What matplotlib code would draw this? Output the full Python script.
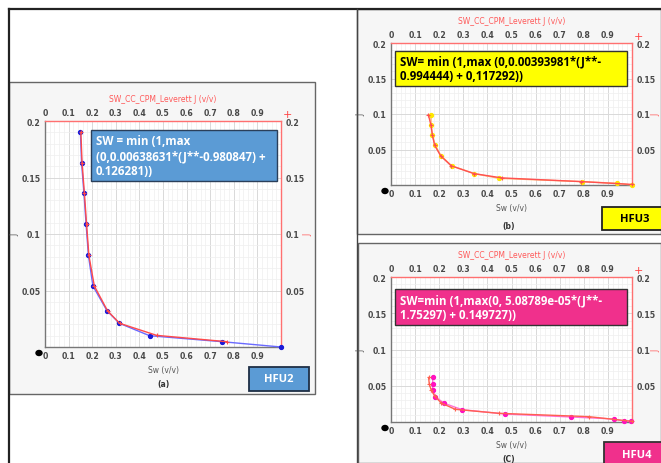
import matplotlib
matplotlib.use("Agg")
import matplotlib.pyplot as plt
from matplotlib.patches import Rectangle, Ellipse
from matplotlib.ticker import MultipleLocator

W, H = 661, 464

# ---- data (Sw, J) ----
# (a) HFU2
sw_a_meas = [0.150, 0.155, 0.165, 0.174, 0.184, 0.203, 0.263, 0.315, 0.443, 0.750, 1.000]
j_a_meas = [0.190, 0.163, 0.136, 0.109, 0.081, 0.054, 0.032, 0.021, 0.010, 0.0047, 0.000]
sw_a_fit = [0.152, 0.157, 0.167, 0.176, 0.186, 0.209, 0.265, 0.316, 0.473, 0.770]
j_a_fit = [0.190, 0.163, 0.136, 0.109, 0.081, 0.054, 0.032, 0.021, 0.0103, 0.0047]

# (b) HFU3
sw_b_meas = [0.166, 0.166, 0.172, 0.183, 0.208, 0.252, 0.346, 0.449, 0.792, 0.938, 1.000]
j_b_meas = [0.098, 0.084, 0.070, 0.056, 0.041, 0.027, 0.016, 0.0094, 0.0047, 0.0024, 0.000]
sw_b_fit = [0.155, 0.166, 0.172, 0.181, 0.206, 0.250, 0.345, 0.460, 0.790, 1.000]
j_b_fit = [0.099, 0.084, 0.070, 0.056, 0.041, 0.027, 0.016, 0.0100, 0.0048, 0.0008]

# (c) HFU4
sw_c_meas = [0.173, 0.173, 0.173, 0.184, 0.219, 0.295, 0.474, 0.748, 0.924, 0.965, 0.997]
j_c_meas = [0.0614, 0.052, 0.044, 0.035, 0.026, 0.017, 0.011, 0.0069, 0.0042, 0.0014, 0.001]
sw_c_fit = [0.156, 0.159, 0.167, 0.181, 0.209, 0.267, 0.447, 0.820, 1.000]
j_c_fit = [0.0614, 0.052, 0.044, 0.036, 0.026, 0.0175, 0.012, 0.0074, 0.0009]

x_ticks = [0, 0.1, 0.2, 0.3, 0.4, 0.5, 0.6, 0.7, 0.8, 0.9]
x_labels = ["0", "0.1", "0.2", "0.3", "0.4", "0.5", "0.6", "0.7", "0.8", "0.9"]
y_ticks = [0.05, 0.1, 0.15, 0.2]
y_labels = ["0.05", "0.1", "0.15", "0.2"]


def px_axes(fig, x0, y0, x1, y1, z=1):
    return fig.add_axes([x0 / W, 1 - y1 / H, (x1 - x0) / W, (y1 - y0) / H], zorder=z)


fig = plt.figure(figsize=(W / 100, H / 100), dpi=100)

# background layer in pixel coords (frames, boxes)
bg = px_axes(fig, 0, 0, W, H, z=0)
bg.set_xlim(0, W)
bg.set_ylim(H, 0)
bg.axis("off")

# overlay layer for text boxes
ov = px_axes(fig, 0, 0, W, H, z=10)
ov.set_xlim(0, W)
ov.set_ylim(H, 0)
ov.axis("off")
ov.patch.set_alpha(0)

# outer frame lines
bg.plot([9, W], [10, 10], color="#222222", lw=1.6)
bg.plot([9, 9], [10, H], color="#222222", lw=1.6)
bg.plot([357, 357], [10, H], color="#444444", lw=1.0)
# panel boxes
for (x0, y0, x1, y1) in [(9, 83, 315, 395), (357, 10, 661, 235), (358, 244, 661, 464)]:
    bg.add_patch(Rectangle((x0, y0), x1 - x0, y1 - y0, facecolor="#f6f6f6",
                           edgecolor="#666666", lw=1.0))


def draw_panel(box, meas_sw, meas_j, fit_sw, fit_j, meas_col, meas_line, fit_col, fit_marker):
    x0, y0, x1, y1 = box
    ax = px_axes(fig, x0, y0, x1, y1, z=5)
    ax.set_facecolor("white")
    ax.set_xlim(0, 1)
    ax.set_ylim(0, 0.2)
    ax.xaxis.set_minor_locator(MultipleLocator(0.02))
    ax.yaxis.set_minor_locator(MultipleLocator(0.01))
    ax.set_xticks(x_ticks, x_labels)
    ax.set_yticks(y_ticks, y_labels)
    ax.grid(which="major", color="#d9d9d9", lw=0.7)
    ax.grid(which="minor", color="#efefef", lw=0.5)
    ax.set_axisbelow(True)
    ax.tick_params(which="both", length=0, labelsize=5.6, labelcolor="#484848",
                   top=True, right=True, labeltop=True, labelright=True, pad=3)
    for lab in ax.get_xticklabels() + ax.get_yticklabels():
        lab.set_fontweight("bold")
    ax.spines["left"].set_color("#777777")
    ax.spines["bottom"].set_color("#777777")
    ax.spines["top"].set_color("#ff7070")
    ax.spines["right"].set_color("#ff7070")
    for s in ax.spines.values():
        s.set_linewidth(1.0)

    ax.plot(meas_sw, meas_j, color=meas_line, lw=1.0, marker="o", ms=2.8,
            mfc=meas_col, mec=meas_col, zorder=3, clip_on=False)
    ax.plot(fit_sw, fit_j, color=fit_col, lw=1.0, marker=fit_marker, ms=3.5,
            mew=0.8, mec=fit_col, zorder=4, clip_on=False)

    cx = (x0 + x1) / 2
    ov.text(cx, y0 - 22, "SW_CC_CPM_Leverett J (v/v)", color="#ff5a5a", fontsize=5.5,
            ha="center", va="center")
    ov.text(cx, y1 + 23, "Sw (v/v)", color="#555555", fontsize=5.5, ha="center", va="center")
    ov.text(x0 - 30, (y0 + y1) / 2, "J", color="#555555", fontsize=5.5, rotation=90,
            ha="center", va="center")
    ov.text(min(x1 + 27, 656), (y0 + y1) / 2, "J", color="#ff5a5a", fontsize=5.5,
            rotation=90, ha="center", va="center")
    ov.text(x1 + 6, y0 - 7, "+", color="#ff4040", fontsize=8, ha="center", va="center")
    ov.add_patch(Ellipse((x0 - 6, y1 + 6), 6, 5, color="black"))
    return ax


draw_panel((45, 122, 281, 348), sw_a_meas, j_a_meas, sw_a_fit, j_a_fit,
           "#1a1ad8", "#6a6aff", "#ff4a4a", "+")
draw_panel((391, 44, 632, 186), sw_b_meas, j_b_meas, sw_b_fit, j_b_fit,
           "#ffe600", "#ffb070", "#ff5050", "+")
draw_panel((391, 278, 632, 423), sw_c_meas, j_c_meas, sw_c_fit, j_c_fit,
           "#ff10c0", "#ff70d8", "#ff6050", "+")


def text_box(x0, y0, x1, y1, face, edge, txt, color, size, ha="left", lw=1.0):
    ov.add_patch(Rectangle((x0, y0), x1 - x0, y1 - y0, facecolor=face, edgecolor=edge,
                           lw=lw, zorder=2))
    if ha == "center":
        ov.text((x0 + x1) / 2, (y0 + y1) / 2, txt, color=color, fontsize=size,
                fontweight="bold", ha="center", va="center", zorder=3,
                family="Open Sans")
    else:
        ov.text(x0 + 5, (y0 + y1) / 2, txt, color=color, fontsize=size,
                fontweight="bold", ha="left", va="center", linespacing=1.2, zorder=3,
                family="Open Sans")


# equation boxes
text_box(91, 131, 277, 182, "#5b9bd5", "#2a3f5a",
         "SW = min (1,max\n(0,0.00638631*(J**-0.980847) +\n0.126281))", "white", 8.3)
text_box(395, 52, 627, 87, "#ffff00", "#333333",
         "SW= min (1,max (0,0.00393981*(J**-\n0.994444) + 0,117292))", "black", 8.3)
text_box(395, 290, 627, 326, "#f0308c", "#333333",
         "SW=min (1,max(0, 5.08789e-05*(J**-\n1.75297) + 0.149727))", "white", 8.3)

# HFU labels
text_box(249, 368, 309, 392, "#5b9bd5", "#1f2f45", "HFU2", "white", 8, ha="center", lw=1.3)
text_box(602, 208, 668, 231, "#ffff00", "#222222", "HFU3", "black", 8, ha="center", lw=1.3)
text_box(604, 443, 670, 468, "#f0308c", "#333333", "HFU4", "white", 8, ha="center", lw=1.3)

# panel letters
ov.text(163, 385, "(a)", color="#333333", fontsize=5.5, fontweight="bold", ha="center", va="center")
ov.text(509, 227, "(b)", color="#333333", fontsize=5.5, fontweight="bold", ha="center", va="center")
ov.text(509, 460, "(C)", color="#333333", fontsize=5.5, fontweight="bold", ha="center", va="center")

fig.savefig("out.png", dpi=100)
